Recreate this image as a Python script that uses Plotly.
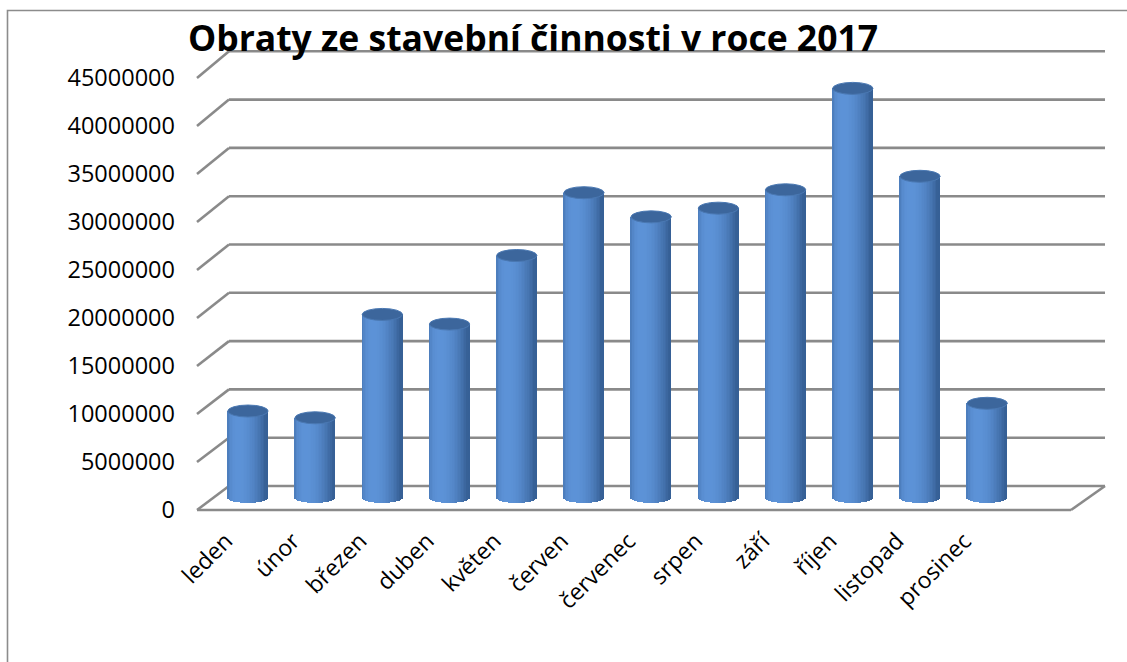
import numpy as np
import plotly.graph_objects as go

months = ["leden", "únor", "březen", "duben", "květen", "červen",
          "červenec", "srpen", "září", "říjen", "listopad", "prosinec"]
values = [8900000, 8200000, 18900000, 17900000, 25000000, 31500000,
          29000000, 29900000, 31800000, 42300000, 33200000, 9700000]
ytick_vals = [0, 5000000, 10000000, 15000000, 20000000, 25000000,
              30000000, 35000000, 40000000, 45000000]
title_text = "Obraty ze stavební činnosti v roce 2017"

# ---- geometry (pixels) ----
W, H = 1127, 662
PPU = 48.3 / 5e6          # pixels per unit (middle/back depth)
FPPU = 48.0 / 5e6         # pixels per unit (front depth)
FY0, MY0, BY0 = 510, 497, 486   # zero line at front / middle / back depth
FX0, FX1 = 197, 1071
BX0, BX1 = 229, 1105
MXD = (213, 1088)
XR = [-0.52, 12.5]
BAR_W = 0.6
ELL = 6.0  # ellipse half height in px
LBL_SHIFT = 6

def px(x):
    return x / W

def front_to_mid(v):
    pix = FY0 - v * FPPU
    return (MY0 - pix) / PPU

def back_to_mid(v):
    return v + (MY0 - BY0) / PPU

fig = go.Figure()

# cylinder body as shaded strips
N = 26
dark = np.array([0x2a, 0x4f, 0x80])
light = np.array([0x5d, 0x93, 0xd8])
light_dir = np.radians(-25)
for k in range(N):
    t = -1 + (2 * k + 1) / N
    theta = np.arcsin(t)
    b = max(0.0, np.cos(theta - light_dir))
    b = 0.25 + 0.75 * b ** 1.2
    c = dark + (light - dark) * b
    col = "rgb(%d,%d,%d)" % tuple(c.astype(int))
    sw = BAR_W / N
    base = -ELL * np.sqrt(max(0.0, 1 - t * t)) / PPU
    fig.add_trace(go.Bar(
        x=months, y=[v - base for v in values], base=base,
        width=sw * 1.15, offset=-BAR_W / 2 + k * sw - sw * 0.075,
        marker=dict(color=col, line=dict(width=0)),
        xaxis="x", yaxis="y", showlegend=False, hoverinfo="skip"))

# invisible trace to carry the front (label) axes
fig.add_trace(go.Scatter(x=months, y=values, xaxis="x2", yaxis="y2",
                         mode="markers", marker=dict(opacity=0),
                         showlegend=False, hoverinfo="skip"))

shapes = []
# top caps
for i, v in enumerate(values):
    shapes.append(dict(type="circle", xref="x", yref="y",
                       x0=i - BAR_W / 2, x1=i + BAR_W / 2,
                       y0=v - ELL / PPU, y1=v + ELL / PPU,
                       fillcolor="#3c669c", line=dict(color="#4a78b2", width=1),
                       layer="above"))

gcol = "#8a8a8a"
gw = 2.6
for v in ytick_vals:
    shapes.append(dict(type="line", xref="paper", yref="y",
                       x0=px(FX0), x1=px(BX0),
                       y0=front_to_mid(v), y1=back_to_mid(v),
                       line=dict(color=gcol, width=gw), layer="below"))
    shapes.append(dict(type="line", xref="paper", yref="y",
                       x0=px(BX0), x1=px(BX1),
                       y0=back_to_mid(v), y1=back_to_mid(v),
                       line=dict(color=gcol, width=gw), layer="below"))
# floor
shapes.append(dict(type="line", xref="paper", yref="y",
                   x0=px(FX0), x1=px(FX1), y0=front_to_mid(0), y1=front_to_mid(0),
                   line=dict(color=gcol, width=gw), layer="below"))
shapes.append(dict(type="line", xref="paper", yref="y",
                   x0=px(FX1), x1=px(BX1), y0=front_to_mid(0), y1=back_to_mid(0),
                   line=dict(color=gcol, width=gw), layer="below"))
# chart border
shapes.append(dict(type="rect", xref="paper", yref="paper",
                   x0=px(7.5), x1=px(1140), y0=1 - 700 / H, y1=1 - 10.5 / H,
                   line=dict(color="#8c8c8c", width=1.6), fillcolor="rgba(0,0,0,0)",
                   layer="below"))

FONT = "Open Sans"
fig.update_layout(
    width=W, height=H, autosize=False,
    margin=dict(l=0, r=0, t=0, b=0, pad=0, autoexpand=False),
    paper_bgcolor="white", plot_bgcolor="rgba(0,0,0,0)",
    barmode="overlay", bargap=0,
    shapes=shapes,
    title=dict(text="<b>" + title_text + "</b>", x=533 / W, y=1 - 39 / H,
               xanchor="center", yanchor="middle", xref="paper", yref="paper",
               automargin=False,
               font=dict(family=FONT, size=35.5, color="black")),
    xaxis=dict(domain=[px(MXD[0]), px(MXD[1])], range=XR, type="category",
               categoryorder="array", categoryarray=months,
               visible=False, anchor="y", automargin=False),
    yaxis=dict(domain=[0, 1], range=[-(H - MY0) / PPU, MY0 / PPU],
               visible=False, anchor="x", automargin=False),
    xaxis2=dict(domain=[px(FX0 - LBL_SHIFT), px(FX1 - LBL_SHIFT)], range=XR,
                type="category", categoryorder="array", categoryarray=months,
                anchor="free", position=1 - FY0 / H, showgrid=False,
                showline=False, zeroline=False, ticks="", tickangle=-45,
                ticklabelstandoff=12, automargin=False,
                tickfont=dict(family=FONT, size=23, color="black")),
    yaxis2=dict(domain=[0, 1], range=[-(H - FY0) / FPPU, FY0 / FPPU],
                overlaying="y", anchor="free", position=px(FX0), side="left",
                tickvals=ytick_vals, ticktext=[str(v) for v in ytick_vals],
                showgrid=False, zeroline=False, showline=False, ticks="",
                ticklabelstandoff=22, automargin=False,
                tickfont=dict(family=FONT, size=23.5, color="black")),
)

fig.write_html("out.html")
